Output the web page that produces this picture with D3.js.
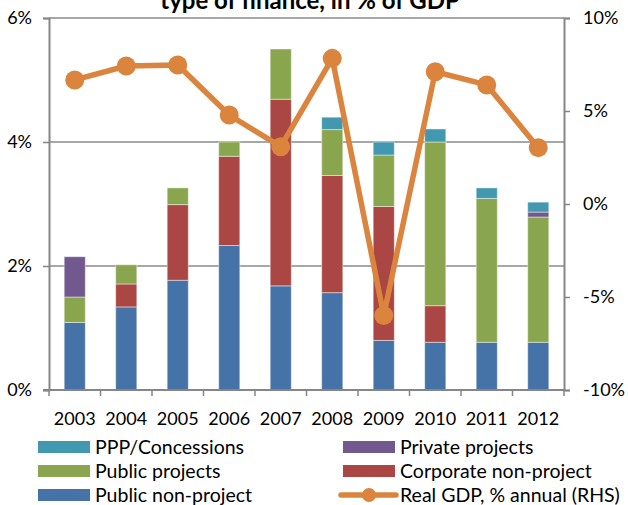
<!DOCTYPE html>
<html>
<head>
<meta charset="utf-8">
<script src="https://cdn.jsdelivr.net/npm/d3@7"></script>
<style>
  body { margin: 0; background: #fff; }
  svg text { font-family: Lato, "Open Sans", sans-serif; fill: #000; }
</style>
</head>
<body>
<div id="chart"></div>
<script>
// chart data
var years = ["2003","2004","2005","2006","2007","2008","2009","2010","2011","2012"];
var publicNonProject    = [1.09, 1.34, 1.77, 2.33, 1.68, 1.57, 0.80, 0.77, 0.77, 0.77];
var corporateNonProject = [0.00, 0.37, 1.22, 1.44, 3.01, 1.89, 2.16, 0.59, 0.00, 0.00];
var publicProjects      = [0.41, 0.31, 0.27, 0.23, 0.81, 0.74, 0.83, 2.64, 2.32, 2.02];
var privateProjects     = [0.65, 0.00, 0.00, 0.00, 0.00, 0.00, 0.00, 0.00, 0.00, 0.08];
var pppConcessions      = [0.00, 0.00, 0.00, 0.00, 0.00, 0.20, 0.21, 0.21, 0.17, 0.16];
var realGdp             = [6.67, 7.42, 7.47, 4.78, 3.08, 7.83, -5.99, 7.11, 6.40, 3.03];
var leftTicks  = [0, 2, 4, 6];
var rightTicks = [-10, -5, 0, 5, 10];

var seriesNames = ["Public non-project", "Corporate non-project", "Public projects", "Private projects", "PPP/Concessions"];
var seriesValues = [publicNonProject, corporateNonProject, publicProjects, privateProjects, pppConcessions];
var colors = ["#4572A7", "#AA4643", "#89A54E", "#71588F", "#4198AF"];
var gdpColor = "#DB843D";

var W = 628, H = 505;
var plotL = 49, plotR = 564, plotT = 18, plotB = 390;

var svg = d3.select("#chart").append("svg")
    .attr("width", W).attr("height", H);

var x = d3.scaleBand().domain(years).range([plotL, plotR])
    .paddingInner(0.59).paddingOuter(0.295);
var y = d3.scaleLinear().domain([0, 6]).range([plotB, plotT]);
var y2 = d3.scaleLinear().domain([-10, 10]).range([plotB, plotT]);

// title (first line is cut off in the original)
svg.append("text")
    .attr("x", 310).attr("y", 9)
    .attr("text-anchor", "middle")
    .style("font-weight", "bold").style("font-size", "24px")
    .text("type of finance, in % of GDP");

// gridlines
svg.append("g").selectAll("line")
    .data(leftTicks.filter(function(d){ return d > 0; }))
    .join("line")
    .attr("x1", plotL).attr("x2", plotR)
    .attr("y1", function(d){ return y(d); }).attr("y2", function(d){ return y(d); })
    .attr("stroke", "#8a8a8a").attr("stroke-width", 1.5);

// stacked bars
var rows = years.map(function(yr, i){
    var r = { year: yr };
    seriesNames.forEach(function(n, k){ r[n] = seriesValues[k][i]; });
    return r;
});
var stack = d3.stack().keys(seriesNames)(rows);

svg.append("g").selectAll("g")
    .data(stack)
    .join("g")
    .attr("fill", function(d, k){ return colors[k]; })
    .selectAll("rect")
    .data(function(d){ return d.filter(function(p){ return p[1] - p[0] > 0; }); })
    .join("rect")
    .attr("x", function(p){ return x(p.data.year); })
    .attr("width", x.bandwidth())
    .attr("y", function(p){ return y(p[1]); })
    .attr("height", function(p){ return y(p[0]) - y(p[1]); })
    .attr("stroke", "#ffffff").attr("stroke-opacity", 0.45).attr("stroke-width", 1);

// axes
var axisColor = "#868686";
var gl = svg.append("g").attr("transform", "translate(" + plotL + ",0)")
    .call(d3.axisLeft(y).tickValues(leftTicks).tickFormat(function(d){ return d + "%"; }).tickSize(6).tickPadding(11));
var gr = svg.append("g").attr("transform", "translate(" + plotR + ",0)")
    .call(d3.axisRight(y2).tickValues(rightTicks).tickFormat(function(d){ return d + "%"; }).tickSize(6).tickPadding(13));
[gl, gr].forEach(function(g){
    g.select(".domain").attr("stroke", axisColor).attr("stroke-width", 2);
    g.selectAll(".tick line").attr("stroke", axisColor).attr("stroke-width", 1.5);
    g.selectAll(".tick text").style("font-size", "18px").style("font-family", "Lato, sans-serif");
});

// bottom axis: line plus ticks at category boundaries
svg.append("line")
    .attr("x1", plotL - 6).attr("x2", plotR)
    .attr("y1", plotB).attr("y2", plotB)
    .attr("stroke", axisColor).attr("stroke-width", 2);
var half = (x.step() - x.bandwidth()) / 2;
var bounds = years.map(function(yr){ return x(yr) - half; }).concat([plotR]);
svg.append("g").selectAll("line")
    .data(bounds).join("line")
    .attr("x1", function(d){ return d; }).attr("x2", function(d){ return d; })
    .attr("y1", plotB).attr("y2", plotB + 6)
    .attr("stroke", axisColor).attr("stroke-width", 1.5);
svg.append("g").selectAll("text")
    .data(years).join("text")
    .attr("x", function(d){ return x(d) + x.bandwidth() / 2; })
    .attr("y", 425)
    .attr("text-anchor", "middle")
    .style("font-size", "18px")
    .text(function(d){ return d; });

// GDP line
var pts = years.map(function(yr, i){ return [x(yr) + x.bandwidth() / 2, y2(realGdp[i])]; });
svg.append("path")
    .attr("d", d3.line()(pts))
    .attr("fill", "none").attr("stroke", gdpColor)
    .attr("stroke-width", 5.5).attr("stroke-linejoin", "round");
svg.append("g").selectAll("circle")
    .data(pts).join("circle")
    .attr("cx", function(p){ return p[0]; }).attr("cy", function(p){ return p[1]; })
    .attr("r", 9.5).attr("fill", gdpColor);

// legend
var legendItems = [
    { name: "PPP/Concessions", color: colors[4], col: 0, row: 0 },
    { name: "Private projects", color: colors[3], col: 1, row: 0 },
    { name: "Public projects", color: colors[2], col: 0, row: 1 },
    { name: "Corporate non-project", color: colors[1], col: 1, row: 1 },
    { name: "Public non-project", color: colors[0], col: 0, row: 2 },
    { name: "Real GDP, % annual (RHS)", color: gdpColor, col: 1, row: 2, line: true }
];
var colX = [38, 343], rowY = [447, 471, 495];
var lg = svg.append("g").selectAll("g")
    .data(legendItems).join("g")
    .attr("transform", function(d){ return "translate(" + colX[d.col] + "," + rowY[d.row] + ")"; });
lg.each(function(d){
    var g = d3.select(this);
    if (d.line) {
        g.append("line").attr("x1", -2).attr("x2", 53).attr("y1", 0).attr("y2", 0)
            .attr("stroke", d.color).attr("stroke-width", 5.5).attr("stroke-linecap", "round");
        g.append("circle").attr("cx", 26).attr("cy", 0).attr("r", 7).attr("fill", d.color);
    } else {
        g.append("rect").attr("x", 0).attr("y", -6).attr("width", 52).attr("height", 12).attr("fill", d.color);
    }
    g.append("text").attr("x", 57).attr("y", 7).style("font-size", "19.5px").text(d.name);
});
</script>
</body>
</html>
